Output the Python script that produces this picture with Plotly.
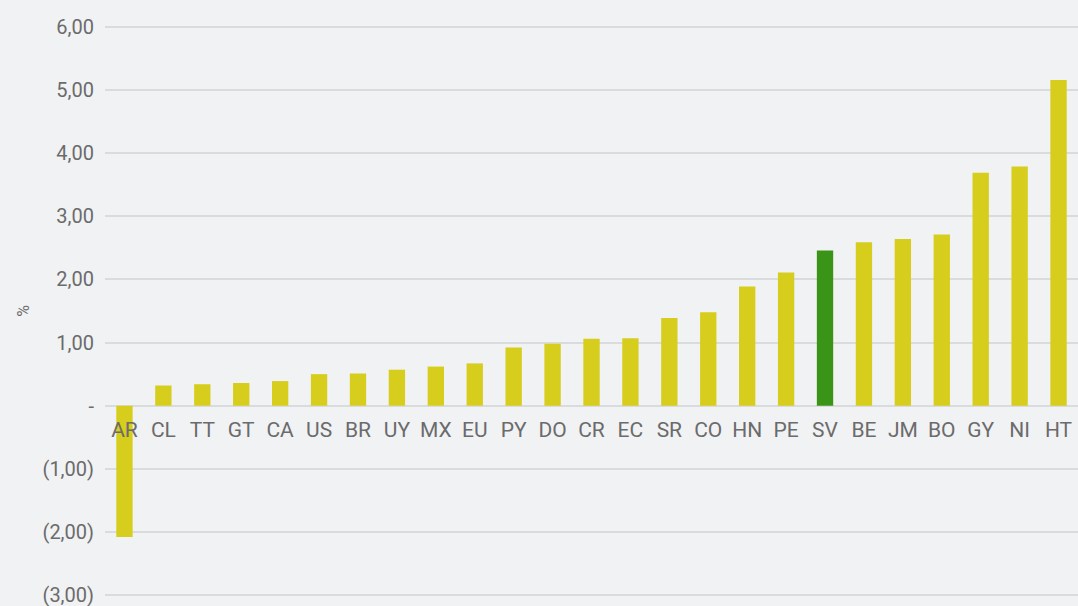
import plotly.graph_objects as go

categories = ["AR", "CL", "TT", "GT", "CA", "US", "BR", "UY", "MX", "EU", "PY", "DO", "CR",
              "EC", "SR", "CO", "HN", "PE", "SV", "BE", "JM", "BO", "GY", "NI", "HT"]
values = [-2.08, 0.32, 0.34, 0.36, 0.39, 0.50, 0.51, 0.57, 0.62, 0.67, 0.92, 0.98, 1.06,
          1.07, 1.39, 1.48, 1.89, 2.11, 2.46, 2.59, 2.64, 2.71, 3.69, 3.79, 5.16]
highlight = "SV"
tick_vals = [-3, -2, -1, 0, 1, 2, 3, 4, 5, 6]
tick_text = ["(3,00)", "(2,00)", "(1,00)", "-", "1,00", "2,00", "3,00", "4,00", "5,00", "6,00"]

YELLOW = "#d7cd1c"
GREEN = "#3a9418"
BG = "#f1f2f4"
GRID = "#dadbdd"
TXT = "#6b6b6b"
FONT = "Roboto, sans-serif"

colors = [GREEN if c == highlight else YELLOW for c in categories]

y_min, y_max = -3.03, 6.03

fig = go.Figure(go.Bar(x=categories, y=values, marker=dict(color=colors, line=dict(width=0)),
                       width=0.42))

fig.update_layout(
    width=1078, height=606,
    paper_bgcolor=BG, plot_bgcolor=BG,
    margin=dict(l=105, r=0, t=25, b=9),
    showlegend=False,
    font=dict(family=FONT, color=TXT, size=20),
)
fig.update_yaxes(
    range=[y_min, y_max], tickvals=tick_vals, ticktext=tick_text,
    showgrid=True, gridcolor=GRID, gridwidth=1.5, zeroline=False,
    showline=False, ticks="", ticklabelstandoff=10, automargin=False,
    ticklabeloverflow="allow",
    tickfont=dict(family=FONT, size=20, color=TXT),
    title=dict(text="%", font=dict(family=FONT, size=16, color=TXT), standoff=8),
)
fig.update_xaxes(
    anchor="free", position=(0 - y_min) / (y_max - y_min),
    showline=False, showgrid=False, zeroline=False, ticks="",
    tickfont=dict(family=FONT, size=21, color=TXT), automargin=False,
    tickangle=0, ticklabelstandoff=9,
)

fig.write_html("out.html", config={"displayModeBar": False},
               post_script="document.body.style.margin='0';document.body.style.background='" + BG + "';")
